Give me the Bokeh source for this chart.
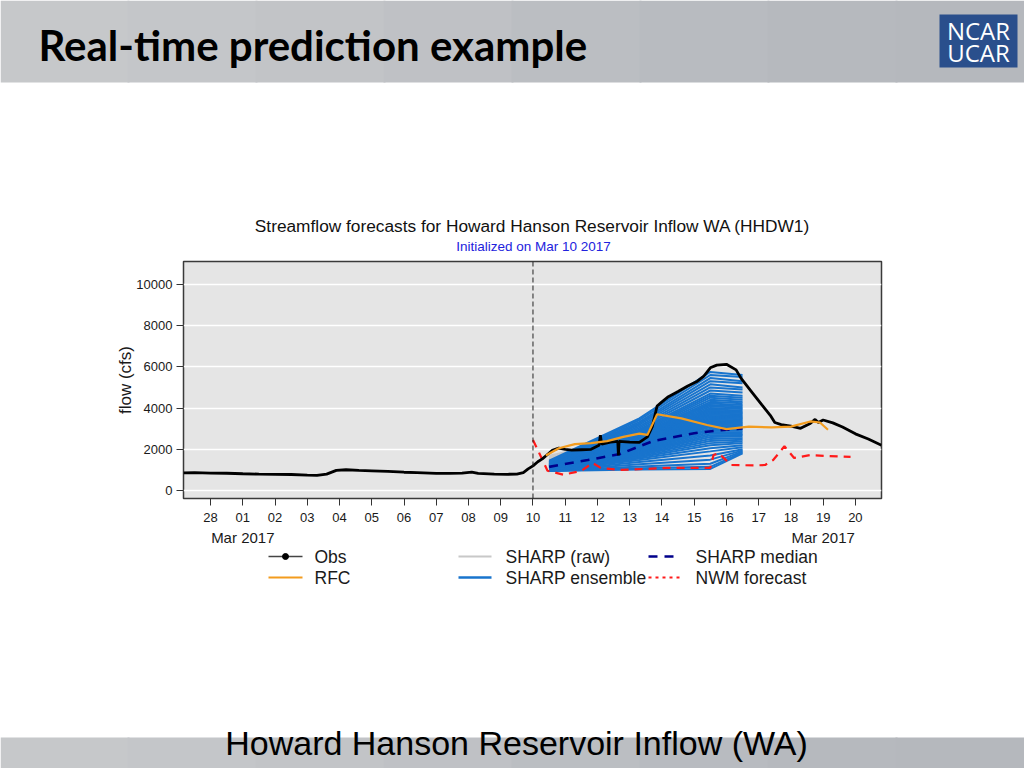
from bokeh.plotting import figure
from bokeh.layouts import column
from bokeh.models import Range1d, FixedTicker, LinearAxis, Span
from bokeh.core.properties import value
from bokeh.embed import file_html
from bokeh.resources import INLINE

# ---------------- data ----------------
# x values are days counted from 28 Feb 2017 (0 = Feb 28, 1 = Mar 01, ...)
day_ticks = list(range(0, 21))
day_labels = ["28", "01", "02", "03", "04", "05", "06", "07", "08", "09", "10",
              "11", "12", "13", "14", "15", "16", "17", "18", "19", "20"]
month_ticks = [1, 19]
month_labels = ["Mar 2017", "Mar 2017"]
flow_ticks = [0, 2000, 4000, 6000, 8000, 10000]
init_day = 10

obs_day = [
    -0.84, -0.5, 0.0, 0.5, 1.0, 1.5, 2.0, 2.5, 3.0, 3.3,
    3.6, 3.9, 4.2, 4.6, 5.0, 5.5, 6.0, 6.4, 7.0, 7.4,
    7.8, 8.1, 8.3, 8.8, 9.2, 9.5, 9.7, 9.85, 10.0, 10.15,
    10.3, 10.45, 10.6, 10.8, 11.0, 11.2, 11.5, 11.8, 12.05, 12.09,
    12.13, 12.4, 12.63, 12.65, 12.67, 13.0, 13.3, 13.55, 13.7, 13.85,
    14.0, 14.2, 14.5, 14.8, 15.1, 15.3, 15.5, 15.7, 16.0, 16.3,
    16.45, 16.8, 17.1, 17.36, 17.5, 17.7, 18.0, 18.3, 18.6, 18.75,
    18.85, 19.0, 19.3, 19.6, 20.0, 20.4, 20.81]
obs_flow = [
    860, 870, 850, 840, 815, 800, 790, 780, 745, 740,
    800, 980, 1010, 980, 960, 930, 890, 870, 830, 830,
    850, 900, 830, 800, 790, 800, 870, 1050, 1200, 1400,
    1550, 1750, 1950, 2060, 2000, 1960, 1980, 2000, 2200, 2680,
    2250, 2350, 2380, 1700, 2380, 2350, 2340, 2600, 3100, 4100,
    4300, 4550, 4800, 5070, 5300, 5550, 5950, 6080, 6120, 5850,
    5450, 4750, 4150, 3650, 3300, 3200, 3120, 3020, 3250, 3450,
    3300, 3420, 3280, 3080, 2750, 2500, 2200]

rfc_day = [10.4, 10.8, 11.3, 11.8, 12.3, 12.8, 13.3, 13.55, 13.85, 14.6,
           15.4, 16.0, 16.7, 17.4, 18.0, 18.6, 18.9, 19.15]
rfc_flow = [1700, 2050, 2250, 2300, 2400, 2600, 2760, 2700, 3700, 3500,
            3180, 2980, 3100, 3060, 3100, 3350, 3300, 2950]

nwm_day = [10.0, 10.2, 10.45, 10.95, 11.5, 11.85, 12.1, 12.7, 14.25, 15.5,
           15.6, 15.75, 16.15, 16.9, 17.2, 17.45, 17.8, 18.1, 18.6, 19.2, 19.85]
nwm_flow = [2450, 1800, 960, 770, 960, 1340, 1100, 1000, 1100, 1100,
            1720, 1820, 1240, 1220, 1240, 1480, 2150, 1580, 1720, 1670, 1630]

median_day = [10.5, 11.7, 12.7, 13.7, 15.0, 15.8, 16.5]
median_flow = [1150, 1480, 1770, 2390, 2780, 2920, 3010]

# ensemble members: values at days 10.5, 13.3, 15.5, 16.5
ens_day = [10.5, 13.3, 15.5, 16.5]
ens_start = [1450, 1400, 1380, 1350, 1330, 1300, 1280, 1260, 1250, 1240,
             1230, 1220, 1210, 1200, 1190, 1180, 1170, 1160, 1150, 1140,
             1130, 1120, 1110, 1100, 1100, 1090, 1080, 1070, 1060, 1050,
             1050, 1040, 1030, 1020, 1010, 1000, 1000, 990, 980, 980,
             970, 960, 960, 950, 950, 950, 950, 950]
ens_mid = [3500, 3420, 3330, 3260, 3190, 3110, 3040, 2960, 2900, 2840,
           2790, 2730, 2690, 2650, 2610, 2570, 2530, 2500, 2460, 2430,
           2400, 2360, 2330, 2300, 2270, 2230, 2200, 2170, 2130, 2100,
           2070, 2020, 1980, 1940, 1900, 1860, 1820, 1770, 1720, 1670,
           1620, 1550, 1480, 1380, 1280, 1170, 1080, 1020]
ens_peak = [5750, 5600, 5450, 5300, 5150, 5000, 4850, 4700, 4600, 4500,
            4400, 4300, 4220, 4150, 4080, 4000, 3930, 3870, 3800, 3740,
            3680, 3620, 3560, 3500, 3440, 3380, 3320, 3260, 3200, 3140,
            3080, 3000, 2920, 2840, 2760, 2680, 2600, 2500, 2400, 2300,
            2200, 2050, 1900, 1700, 1500, 1300, 1150, 1050]
ens_end = [5600, 5500, 5300, 5200, 5000, 4900, 4750, 4600, 4500, 4400,
           4300, 4230, 4150, 4080, 4020, 3950, 3880, 3820, 3760, 3700,
           3640, 3580, 3520, 3460, 3400, 3340, 3280, 3220, 3160, 3100,
           3040, 2970, 2900, 2830, 2760, 2690, 2620, 2540, 2460, 2380,
           2300, 2200, 2100, 2000, 1950, 1900, 1850, 1800]

# raw (uncorrected) members, same days
raw_start = [1700, 1650, 1600, 1550, 1500]
raw_mid = [2650, 2600, 2550, 2500, 2450]
raw_peak = [3700, 3600, 3500, 3400, 3300]
raw_end = [3600, 3500, 3400, 3300, 3200]

# ---------------- styles ----------------
FONT = value("Liberation Sans")
C_ENS = "#1874CD"
C_RFC = "#F39C1E"
C_NWM = "#FF1A1A"
C_MED = "#00008B"
C_RAW = "#C8C8C8"
W = 1024
BAND_L = [0, 127, 255, 383, 511, 639, 767, 895]
BAND_R = [129, 257, 385, 513, 641, 769, 897, W]
BAND_C = ["#c6c8ca", "#c4c6c9", "#c2c4c7", "#bfc1c5", "#bbbec2", "#b8bbc0", "#b6b9be", "#b5b8bd"]


def deco_fig(h):
    f = figure(width=W, height=h, x_range=Range1d(0, W), y_range=Range1d(h, 0),
               output_backend="svg", toolbar_location=None,
               x_axis_type=None, y_axis_type=None, min_border=0)
    f.frame_align = False
    f.outline_line_color = None
    f.background_fill_color = "white"
    f.border_fill_color = "white"
    f.grid.visible = False
    return f


# ---------------- header + title ----------------
top = deco_fig(258)
top.quad(left=BAND_L, right=BAND_R, top=[0] * 8, bottom=[82] * 8,
         fill_color=BAND_C, line_color=None)
top.text(x=[38], y=[44], text=["Real-time prediction example"], text_font=value("Lato"),
         text_font_style="bold", text_font_size="42px", text_color="black",
         text_align="left", text_baseline="middle")
top.quad(left=[939], right=[1017], top=[14], bottom=[67], fill_color="#2a4f8c", line_color=None)
top.text(x=[978, 978], y=[30, 52], text=["NCAR", "UCAR"], text_font=value("Open Sans"),
         text_font_size="24px", text_color="white", text_align="center",
         text_baseline="middle")
top.text(x=[532], y=[225],
         text=["Streamflow forecasts for Howard Hanson Reservoir Inflow WA (HHDW1)"],
         text_font=FONT, text_font_size="17.3px", text_color="#111111",
         text_align="center", text_baseline="middle")
top.text(x=[533], y=[246], text=["Initialized on Mar 10 2017"],
         text_font=FONT, text_font_size="13.5px", text_color="#2222dd",
         text_align="center", text_baseline="middle")

# ---------------- chart ----------------
p = figure(width=W, height=290, x_range=Range1d(-0.84, 20.81), y_range=Range1d(-383, 11100),
           output_backend="svg", toolbar_location=None,
           min_border_left=183, min_border_right=143, min_border_top=3, min_border_bottom=47)
p.frame_align = False
p.background_fill_color = "#e5e5e5"
p.border_fill_color = "white"
p.outline_line_color = "#3a3a3a"
p.outline_line_width = 1.5
p.xgrid.visible = False
p.ygrid.grid_line_color = "white"
p.ygrid.grid_line_width = 1.5
p.ygrid.ticker = FixedTicker(ticks=flow_ticks)

p.xaxis.ticker = FixedTicker(ticks=day_ticks)
p.xaxis.major_label_overrides = {t: l for t, l in zip(day_ticks, day_labels)}
p.yaxis.ticker = FixedTicker(ticks=flow_ticks)
p.yaxis.axis_label = "flow (cfs)"
for ax in (p.xaxis[0], p.yaxis[0]):
    ax.axis_line_color = None
    ax.major_tick_in = 0
    ax.major_tick_out = 7
    ax.major_tick_line_color = "#333333"
    ax.minor_tick_line_color = None
    ax.major_label_text_font = "Liberation Sans"
    ax.major_label_text_font_size = "13px"
    ax.major_label_text_color = "#1a1a1a"
    ax.major_label_standoff = 4
p.xaxis[0].major_label_standoff = 7
p.yaxis.axis_label_text_font = "Liberation Sans"
p.yaxis.axis_label_text_font_size = "17px"
p.yaxis.axis_label_text_font_style = "normal"
p.yaxis.axis_label_text_color = "#1a1a1a"
p.yaxis.axis_label_standoff = -2

month_axis = LinearAxis(ticker=FixedTicker(ticks=month_ticks),
                        major_label_overrides={t: l for t, l in zip(month_ticks, month_labels)},
                        axis_line_color=None, major_tick_line_color=None,
                        minor_tick_line_color=None, major_label_standoff=-2,
                        major_label_text_font="Liberation Sans",
                        major_label_text_font_size="15px",
                        major_label_text_color="#1a1a1a")
p.add_layout(month_axis, "below")

raw_ys = [[a, b, c, d] for a, b, c, d in zip(raw_start, raw_mid, raw_peak, raw_end)]
p.multi_line(xs=[ens_day] * len(raw_ys), ys=raw_ys, line_color=C_RAW, line_width=1.6)
ens_ys = [[a, b, c, d] for a, b, c, d in zip(ens_start, ens_mid, ens_peak, ens_end)]
p.multi_line(xs=[ens_day] * len(ens_ys), ys=ens_ys, line_color=C_ENS, line_width=2.0)

p.line(nwm_day, nwm_flow, line_color=C_NWM, line_width=2.2, line_dash="8 6")
p.line(median_day, median_flow, line_color=C_MED, line_width=2.6, line_dash="9 7")
p.line(obs_day, obs_flow, line_color="black", line_width=2.8)
p.line(rfc_day, rfc_flow, line_color=C_RFC, line_width=2.2)

p.add_layout(Span(location=init_day, dimension="height", line_color="#222222",
                  line_width=1, line_dash="5 3"))

# ---------------- legend + footer ----------------
bot = deco_fig(220)
r1, r2 = 8, 29
bot.line([268, 302], [r1, r1], line_color="#444444", line_width=1.5)
bot.scatter([285], [r1], size=6, color="black")
bot.line([268, 302], [r2, r2], line_color=C_RFC, line_width=2)
bot.line([458, 491], [r1, r1], line_color=C_RAW, line_width=2)
bot.line([458, 491], [r2, r2], line_color=C_ENS, line_width=2.5)
bot.line([648, 680], [r1, r1], line_color=C_MED, line_width=2.5, line_dash="9 7")
bot.line([648, 680], [r2, r2], line_color=C_NWM, line_width=2, line_dash="3 4")
bot.text(x=[314, 314, 505, 505, 695, 695], y=[r1, r2, r1, r2, r1, r2],
         text=["Obs", "RFC", "SHARP (raw)", "SHARP ensemble", "SHARP median", "NWM forecast"],
         text_font=FONT, text_font_size="17.5px", text_color="#1a1a1a",
         text_align="left", text_baseline="middle")
bot.quad(left=BAND_L, right=BAND_R, top=[189] * 8, bottom=[220] * 8,
         fill_color=BAND_C, line_color=None)
bot.text(x=[516], y=[194], text=["Howard Hanson Reservoir Inflow (WA)"],
         text_font=FONT, text_font_size="34px", text_color="black",
         text_align="center", text_baseline="middle")

layout = column(top, p, bot, spacing=0)
open("out.html", "w").write(file_html(layout, INLINE))
